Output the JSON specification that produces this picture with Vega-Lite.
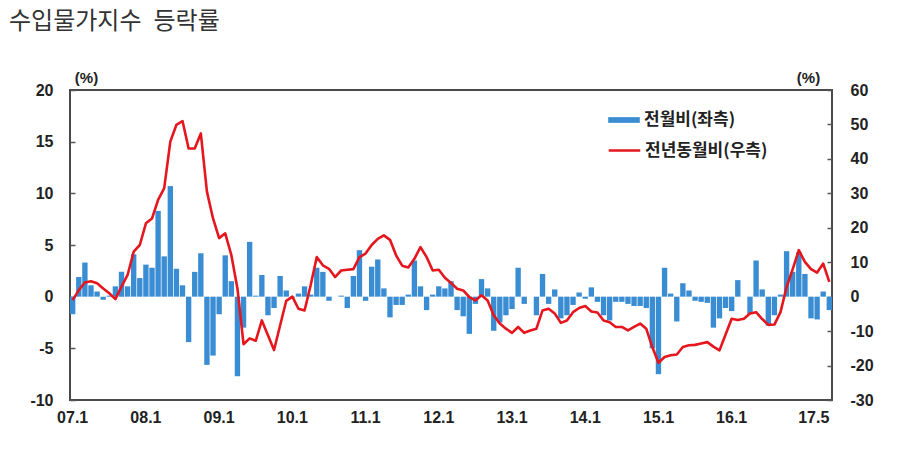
{
  "$schema": "https://vega.github.io/schema/vega-lite/v6.json",
  "width": 762,
  "height": 310,
  "autosize": "none",
  "padding": {"left": 70, "top": 90, "right": 70, "bottom": 59},
  "background": "white",
  "title": {
    "text": "수입물가지수\u2002등락률",
    "anchor": "start",
    "frame": "group",
    "dx": -61,
    "dy": -32,
    "font": "Noto Sans CJK KR",
    "fontSize": 24,
    "fontWeight": "normal",
    "color": "#333333"
  },
  "data": {
    "values": [
      {"m": "07.1", "mom": -1.7, "yoy": -1.0}, {"m": "07.2", "mom": 1.9, "yoy": 1.9}, {"m": "07.3", "mom": 3.3, "yoy": 4.1},
      {"m": "07.4", "mom": 1.1, "yoy": 4.5}, {"m": "07.5", "mom": 0.5, "yoy": 3.9}, {"m": "07.6", "mom": -0.3, "yoy": 2.4},
      {"m": "07.7", "mom": 0.1, "yoy": 1.0}, {"m": "07.8", "mom": 1.0, "yoy": -0.7}, {"m": "07.9", "mom": 2.4, "yoy": 2.9},
      {"m": "07.10", "mom": 1.0, "yoy": 6.3}, {"m": "07.11", "mom": 4.1, "yoy": 13.1}, {"m": "07.12", "mom": 1.8, "yoy": 15.0},
      {"m": "08.1", "mom": 3.1, "yoy": 21.3}, {"m": "08.2", "mom": 2.8, "yoy": 22.7}, {"m": "08.3", "mom": 8.3, "yoy": 28.1},
      {"m": "08.4", "mom": 3.9, "yoy": 31.5}, {"m": "08.5", "mom": 10.7, "yoy": 45.0}, {"m": "08.6", "mom": 2.7, "yoy": 49.9},
      {"m": "08.7", "mom": 1.1, "yoy": 51.0}, {"m": "08.8", "mom": -4.4, "yoy": 43.0}, {"m": "08.9", "mom": 2.4, "yoy": 43.0},
      {"m": "08.10", "mom": 4.2, "yoy": 47.4}, {"m": "08.11", "mom": -6.6, "yoy": 30.5}, {"m": "08.12", "mom": -5.7, "yoy": 22.7},
      {"m": "09.1", "mom": -1.7, "yoy": 17.0}, {"m": "09.2", "mom": 4.0, "yoy": 18.4}, {"m": "09.3", "mom": 1.5, "yoy": 12.1},
      {"m": "09.4", "mom": -7.7, "yoy": 2.4}, {"m": "09.5", "mom": -3.0, "yoy": -13.8}, {"m": "09.6", "mom": 5.3, "yoy": -12.1},
      {"m": "09.7", "mom": 0.1, "yoy": -12.8}, {"m": "09.8", "mom": 2.1, "yoy": -6.9}, {"m": "09.9", "mom": -1.8, "yoy": -11.2},
      {"m": "09.10", "mom": -1.1, "yoy": -15.5}, {"m": "09.11", "mom": 2.0, "yoy": -8.3}, {"m": "09.12", "mom": 0.6, "yoy": -1.2},
      {"m": "10.1", "mom": -0.1, "yoy": 0.0}, {"m": "10.2", "mom": 0.3, "yoy": -3.5}, {"m": "10.3", "mom": 1.0, "yoy": -4.0},
      {"m": "10.4", "mom": 0.2, "yoy": 3.3}, {"m": "10.5", "mom": 2.8, "yoy": 11.5}, {"m": "10.6", "mom": 2.4, "yoy": 9.1},
      {"m": "10.7", "mom": -0.4, "yoy": 8.1}, {"m": "10.8", "mom": 0.0, "yoy": 5.7}, {"m": "10.9", "mom": 0.1, "yoy": 7.6},
      {"m": "10.10", "mom": -1.1, "yoy": 7.8}, {"m": "10.11", "mom": 2.0, "yoy": 8.0}, {"m": "10.12", "mom": 4.5, "yoy": 11.5},
      {"m": "11.1", "mom": -0.4, "yoy": 12.5}, {"m": "11.2", "mom": 2.9, "yoy": 15.0}, {"m": "11.3", "mom": 3.6, "yoy": 16.8},
      {"m": "11.4", "mom": 0.8, "yoy": 17.8}, {"m": "11.5", "mom": -2.0, "yoy": 16.5}, {"m": "11.6", "mom": -0.8, "yoy": 12.0},
      {"m": "11.7", "mom": -0.8, "yoy": 9.0}, {"m": "11.8", "mom": 0.2, "yoy": 8.5}, {"m": "11.9", "mom": 3.5, "yoy": 11.0},
      {"m": "11.10", "mom": 1.0, "yoy": 14.4}, {"m": "11.11", "mom": -1.3, "yoy": 11.5}, {"m": "11.12", "mom": 0.2, "yoy": 7.6},
      {"m": "12.1", "mom": 1.0, "yoy": 7.8}, {"m": "12.2", "mom": 0.8, "yoy": 5.5}, {"m": "12.3", "mom": 1.5, "yoy": 4.0},
      {"m": "12.4", "mom": -1.3, "yoy": 2.3}, {"m": "12.5", "mom": -1.9, "yoy": 1.8}, {"m": "12.6", "mom": -3.6, "yoy": -0.1},
      {"m": "12.7", "mom": -0.7, "yoy": -1.1}, {"m": "12.8", "mom": 1.7, "yoy": 0.4}, {"m": "12.9", "mom": 0.8, "yoy": -1.1},
      {"m": "12.10", "mom": -3.3, "yoy": -5.4}, {"m": "12.11", "mom": -2.5, "yoy": -7.8}, {"m": "12.12", "mom": -1.8, "yoy": -9.3},
      {"m": "13.1", "mom": -1.2, "yoy": -10.5}, {"m": "13.2", "mom": 2.8, "yoy": -8.8}, {"m": "13.3", "mom": -0.7, "yoy": -10.5},
      {"m": "13.4", "mom": 0.0, "yoy": -9.8}, {"m": "13.5", "mom": -1.8, "yoy": -9.3}, {"m": "13.6", "mom": 2.2, "yoy": -4.0},
      {"m": "13.7", "mom": -0.7, "yoy": -3.5}, {"m": "13.8", "mom": 0.7, "yoy": -4.9}, {"m": "13.9", "mom": -2.1, "yoy": -7.6},
      {"m": "13.10", "mom": -1.8, "yoy": -6.9}, {"m": "13.11", "mom": -0.8, "yoy": -4.5}, {"m": "13.12", "mom": 0.4, "yoy": -3.3},
      {"m": "14.1", "mom": -0.2, "yoy": -2.7}, {"m": "14.2", "mom": 0.9, "yoy": -4.3}, {"m": "14.3", "mom": -0.5, "yoy": -4.6},
      {"m": "14.4", "mom": -1.8, "yoy": -6.9}, {"m": "14.5", "mom": -2.3, "yoy": -7.4}, {"m": "14.6", "mom": -0.5, "yoy": -8.8},
      {"m": "14.7", "mom": -0.5, "yoy": -8.8}, {"m": "14.8", "mom": -0.7, "yoy": -9.8}, {"m": "14.9", "mom": -0.9, "yoy": -8.8},
      {"m": "14.10", "mom": -0.9, "yoy": -7.8}, {"m": "14.11", "mom": -1.1, "yoy": -9.3}, {"m": "14.12", "mom": -5.0, "yoy": -14.7},
      {"m": "15.1", "mom": -7.5, "yoy": -19.2}, {"m": "15.2", "mom": 2.8, "yoy": -17.5}, {"m": "15.3", "mom": 0.3, "yoy": -17.0},
      {"m": "15.4", "mom": -2.4, "yoy": -16.8}, {"m": "15.5", "mom": 1.3, "yoy": -14.6}, {"m": "15.6", "mom": 0.6, "yoy": -14.1},
      {"m": "15.7", "mom": -0.4, "yoy": -14.0}, {"m": "15.8", "mom": -0.5, "yoy": -13.6}, {"m": "15.9", "mom": -0.6, "yoy": -13.2},
      {"m": "15.10", "mom": -3.0, "yoy": -14.5}, {"m": "15.11", "mom": -2.1, "yoy": -15.6}, {"m": "15.12", "mom": -1.1, "yoy": -11.0},
      {"m": "16.1", "mom": -1.4, "yoy": -6.4}, {"m": "16.2", "mom": 1.6, "yoy": -6.8}, {"m": "16.3", "mom": 0.0, "yoy": -6.4},
      {"m": "16.4", "mom": -1.7, "yoy": -4.9}, {"m": "16.5", "mom": 3.5, "yoy": -4.5}, {"m": "16.6", "mom": 0.7, "yoy": -6.5},
      {"m": "16.7", "mom": -2.8, "yoy": -8.2}, {"m": "16.8", "mom": -1.8, "yoy": -8.1}, {"m": "16.9", "mom": 0.2, "yoy": -4.5},
      {"m": "16.10", "mom": 4.4, "yoy": 2.8}, {"m": "16.11", "mom": 2.4, "yoy": 8.0}, {"m": "16.12", "mom": 4.3, "yoy": 13.5},
      {"m": "17.1", "mom": 2.2, "yoy": 10.1}, {"m": "17.2", "mom": -2.1, "yoy": 8.0}, {"m": "17.3", "mom": -2.2, "yoy": 7.0},
      {"m": "17.4", "mom": 0.5, "yoy": 9.6}, {"m": "17.5", "mom": -1.3, "yoy": 4.3}
    ]
  },
  "encoding": {
    "x": {
      "field": "m",
      "type": "ordinal",
      "sort": null,
      "scale": {"paddingInner": 0.12, "paddingOuter": 0},
      "axis": {
        "title": null,
        "ticks": false,
        "domain": false,
        "labelAngle": 0,
        "labelOverlap": false,
        "labelPadding": 9,
        "labelFont": "Liberation Sans",
        "labelFontWeight": "bold",
        "labelFontSize": 16,
        "labelColor": "#222222",
        "labelAlign": {"condition": {"test": "datum.value == '17.5'", "value": "right"}, "value": "center"},
        "labelExpr": "(slice(datum.value, 3) == '1' && datum.value != '17.1') || datum.value == '17.5' ? datum.value : ''"
      }
    }
  },
  "layer": [
    {
      "mark": {"type": "bar"},
      "encoding": {
        "y": {
          "field": "mom",
          "type": "quantitative",
          "scale": {"domain": [-10, 20], "nice": false, "zero": false},
          "axis": {
            "orient": "left",
            "values": [-10, -5, 0, 5, 10, 15, 20],
            "grid": false,
            "domain": false,
            "tickSize": -5,
            "tickWidth": 1.5,
            "tickColor": "#555555",
            "labelPadding": 22,
            "labelFont": "Liberation Sans",
            "labelFontWeight": "bold",
            "labelFontSize": 16,
            "labelColor": "#222222",
            "labelExpr": "datum.value + ''",
            "title": "(%)",
            "titleAngle": 0,
            "titleX": 16,
            "titleY": -5,
            "titleAlign": "center",
            "titleBaseline": "bottom",
            "titleFont": "Liberation Sans",
            "titleFontWeight": "bold",
            "titleFontSize": 15,
            "titleColor": "#222222"
          }
        },
        "fill": {
          "datum": "전월비(좌측)",
          "type": "nominal",
          "scale": {"range": ["#3a8dd2"]},
          "legend": {
            "orient": "none",
            "legendX": 537,
            "legendY": 13,
            "title": null,
            "symbolType": "M-1,-0.18H1V0.18H-1Z",
            "symbolSize": 1000,
            "labelFont": "Noto Sans CJK KR",
            "labelFontWeight": "bold",
            "labelFontSize": 17,
            "labelColor": "#222222",
            "labelOffset": 3
          }
        }
      }
    },
    {
      "mark": {"type": "line", "strokeWidth": 2.6, "strokeJoin": "round"},
      "encoding": {
        "y": {
          "field": "yoy",
          "type": "quantitative",
          "scale": {"domain": [-30, 60], "nice": false, "zero": false},
          "axis": {
            "orient": "right",
            "values": [-30, -20, -10, 0, 10, 20, 30, 40, 50, 60],
            "grid": false,
            "domain": false,
            "tickSize": -5,
            "tickWidth": 1.5,
            "tickColor": "#555555",
            "labelPadding": 23,
            "labelFont": "Liberation Sans",
            "labelFontWeight": "bold",
            "labelFontSize": 16,
            "labelColor": "#222222",
            "labelExpr": "datum.value + ''",
            "title": "(%)",
            "titleAngle": 0,
            "titleX": -24,
            "titleY": -5,
            "titleAlign": "center",
            "titleBaseline": "bottom",
            "titleFont": "Liberation Sans",
            "titleFontWeight": "bold",
            "titleFontSize": 15,
            "titleColor": "#222222"
          }
        },
        "stroke": {
          "datum": "전년동월비(우측)",
          "type": "nominal",
          "scale": {"range": ["#e5161d"]},
          "legend": {
            "orient": "none",
            "legendX": 537,
            "legendY": 43,
            "title": null,
            "symbolType": "stroke",
            "symbolSize": 1000,
            "symbolStrokeWidth": 2.5,
            "labelFont": "Noto Sans CJK KR",
            "labelFontWeight": "bold",
            "labelFontSize": 17,
            "labelColor": "#222222",
            "labelOffset": 3
          }
        }
      }
    }
  ],
  "resolve": {"scale": {"y": "independent"}},
  "config": {
    "view": {"stroke": "#4a4a4a", "strokeWidth": 2}
  }
}
